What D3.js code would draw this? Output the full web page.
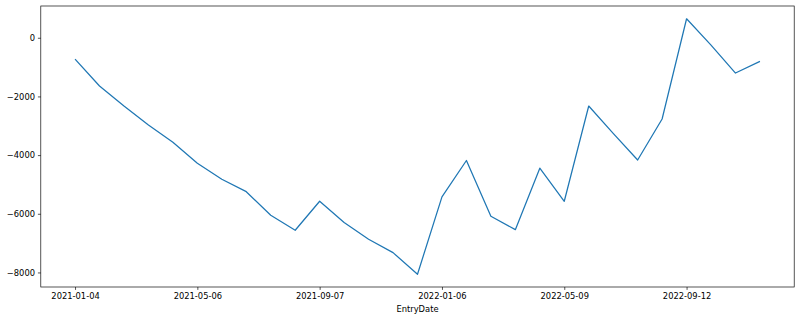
<!DOCTYPE html>
<html>
<head>
<meta charset="utf-8">
<script src="https://cdnjs.cloudflare.com/ajax/libs/d3/7.8.5/d3.min.js"></script>
<style>
    body { margin: 0; background: #fff; }
    text { font-family: "DejaVu Sans", sans-serif; fill: #000; }
</style>
</head>
<body>
<div id="chart"></div>
<script>
// Categories (dates, as strings like the original)
var entryDates = [
    "2021-01-04", "2021-01-28", "2021-02-22", "2021-03-18", "2021-04-12",
    "2021-05-06", "2021-05-31", "2021-06-24", "2021-07-19", "2021-08-12",
    "2021-09-07", "2021-10-01", "2021-10-25", "2021-11-19", "2021-12-13",
    "2022-01-06", "2022-01-31", "2022-02-24", "2022-03-21", "2022-04-14",
    "2022-05-09", "2022-06-03", "2022-06-28", "2022-07-22", "2022-08-17",
    "2022-09-12", "2022-10-06", "2022-10-31", "2022-11-24"
];

// Series values
var values = [
    -726, -1646, -2327, -2974, -3564,
    -4280, -4825, -5247, -6051, -6562,
    -5574, -6300, -6869, -7325, -8061,
    -5425, -4185, -6085, -6542, -4445,
    -5574, -2327, -3257, -4167, -2770,
    647, -249, -1203, -804
];

// Ticks
var yTickValues = [0, -2000, -4000, -6000, -8000];
var xTickEvery = 5;
var xLabel = "EntryDate";

(function (d3) {
    "use strict";

    var width = 800;
    var height = 320;
    var plot = { left: 40.8, right: 794.2, top: 6, bottom: 287 };

    var svg = d3.select("#chart").append("svg")
        .attr("width", width)
        .attr("height", height);

    // matplotlib-like 5% margins
    var n = values.length;
    var xPad = (n - 1) * 0.05;
    var yMin = d3.min(values), yMax = d3.max(values);
    var yPad = (yMax - yMin) * 0.05;

    var xScale = d3.scaleLinear()
        .domain([-xPad, n - 1 + xPad])
        .range([plot.left, plot.right]);
    var yScale = d3.scaleLinear()
        .domain([yMin - yPad, yMax + yPad])
        .range([plot.bottom, plot.top]);

    var data = values.map(function (v, i) {
        return { i: i, date: entryDates[i], value: v };
    });

    // Line
    var line = d3.line()
        .x(function (d) { return xScale(d.i); })
        .y(function (d) { return yScale(d.value); });

    svg.append("path")
        .datum(data)
        .attr("fill", "none")
        .attr("stroke", "#1f77b4")
        .attr("stroke-width", 1.25)
        .attr("stroke-linejoin", "round")
        .attr("d", line);

    // Axes
    var xTicks = d3.range(0, n, xTickEvery);
    var xAxis = d3.axisBottom(xScale)
        .tickValues(xTicks)
        .tickFormat(function (i) { return entryDates[i]; })
        .tickSizeInner(2.9)
        .tickSizeOuter(0)
        .tickPadding(2.9);

    var yAxis = d3.axisLeft(yScale)
        .tickValues(yTickValues)
        .tickFormat(function (v) { return String(v).replace("-", "\u2212"); })
        .tickSizeInner(2.9)
        .tickSizeOuter(0)
        .tickPadding(2.9);

    var gx = svg.append("g")
        .attr("transform", "translate(0," + plot.bottom + ")")
        .call(xAxis);
    var gy = svg.append("g")
        .attr("transform", "translate(" + plot.left + ",0)")
        .call(yAxis);

    [gx, gy].forEach(function (g) {
        g.select(".domain").remove();
        g.selectAll(".tick line").attr("stroke", "#000").attr("stroke-width", 0.67);
        g.selectAll(".tick text")
            .style("font-family", "'DejaVu Sans', sans-serif")
            .style("font-size", "8.33px")
            .attr("fill", "#000");
    });

    // Spines
    svg.append("rect")
        .attr("x", plot.left)
        .attr("y", plot.top)
        .attr("width", plot.right - plot.left)
        .attr("height", plot.bottom - plot.top)
        .attr("fill", "none")
        .attr("stroke", "#000")
        .attr("stroke-width", 0.67);

    // Axis label
    svg.append("text")
        .attr("x", (plot.left + plot.right) / 2)
        .attr("y", 312)
        .attr("text-anchor", "middle")
        .style("font-size", "8.33px")
        .text(xLabel);

})(d3);
</script>
</body>
</html>
